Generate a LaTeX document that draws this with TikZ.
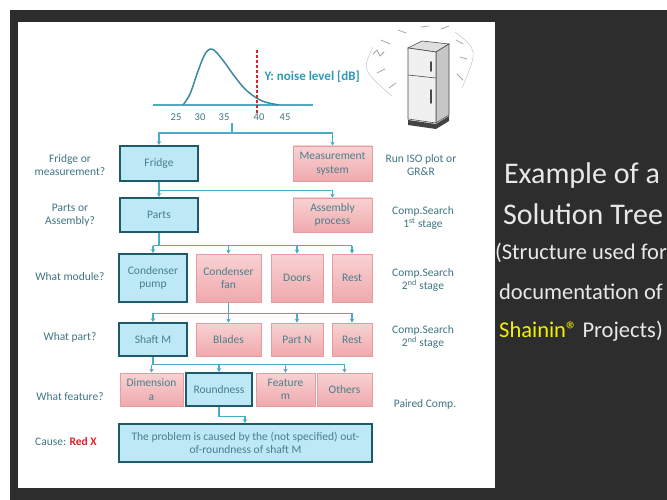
\documentclass[tikz,border=0pt]{standalone}
\usepackage{fontspec}
\setmainfont{Carlito}
\usetikzlibrary{arrows.meta,calc}

\definecolor{bgdark}{HTML}{2D2D2E}
\definecolor{teal}{HTML}{4BACC6}
\definecolor{tealtext}{HTML}{2F9AB5}
\definecolor{hiborder}{HTML}{1F5A6A}
\definecolor{hifill}{HTML}{BDE8F6}
\definecolor{boxtext}{HTML}{4A7F8C}
\definecolor{pinkborder}{HTML}{E59CA1}
\definecolor{pinktop}{HTML}{F8D2D3}
\definecolor{pinkbot}{HTML}{F0A9AD}
\definecolor{labeltext}{HTML}{3F7582}
\definecolor{redx}{HTML}{E0202A}
\definecolor{titletext}{HTML}{E8E8E8}
\definecolor{shainin}{HTML}{F2F200}
\definecolor{fridgeline}{HTML}{4A4A4A}

\tikzset{
  box/.style={rectangle, align=center, inner sep=1pt,
    font=\fontsize{11.5}{13.5}\selectfont, text=boxtext},
  hibox/.style={box, draw=hiborder, line width=1.8pt, fill=hifill},
  pinkbox/.style={box, draw=pinkborder, line width=0.7pt,
    top color=pinktop, bottom color=pinkbot},
  qlabel/.style={align=center, font=\fontsize{11.5}{13.5}\selectfont, text=labeltext},
  conn/.style={draw=teal, line width=1.1pt},
  arr/.style={conn, -{Stealth[length=4pt,width=4.5pt]}},
  ticklabel/.style={font=\fontsize{10.5}{12}\selectfont, text=labeltext},
  bigtitle/.style={font=\fontsize{30}{33}\selectfont, text=titletext},
  subtitle/.style={font=\fontsize{22.5}{25}\selectfont, text=titletext},
  vib/.style={draw=gray!70, line width=0.8pt, line cap=round},
}

\begin{document}
\begin{tikzpicture}[x=1pt,y=-1pt]
\useasboundingbox (0,0) rectangle (667,500);

% backdrop and white slide panel
\fill[bgdark] (0,0) rectangle (667,500);
\fill[white] (0,0) rectangle (667,10);
\fill[white] (0,0) rectangle (10,500);
\fill[white] (18,22) rectangle (495,488);

% noise distribution
\draw[teal, line width=1.6pt] (153,105) -- (313,105);
\draw[teal!80!black, line width=1.5pt, line join=round]
  plot[smooth, tension=0.6] coordinates {(183,105) (190,94) (197,74) (204,56) (210,49)
    (216,52) (225,63) (235,77) (245,89) (255,97) (265,102) (279,105)};
\draw[redx, line width=1.2pt, dash pattern=on 3pt off 2pt] (257,50) -- (257,115);
\node[ticklabel] (t25) at (176,117) {25};
\node[ticklabel] (t30) at (200,117) {30};
\node[ticklabel] (t35) at (224,117) {35};
\node[ticklabel] (t40) at (259,117) {40};
\node[ticklabel] (t45) at (285,117) {45};
\node[anchor=west, text=tealtext, font=\fontsize{13}{15}\selectfont\bfseries] (ylab)
  at (261,77) {Y: noise level [dB]};

% vibrating fridge
\fill[fridgeline!90!black] (408,120) -- (436,124) -- (449,116) -- (449,121) -- (436,129) -- (408,125) -- cycle;
\filldraw[draw=fridgeline, fill=gray!25, line width=0.6pt]
  (408,48) -- (422,41) -- (449,44) -- (436,52) -- cycle;
\filldraw[draw=fridgeline, fill=gray!45, line width=0.6pt]
  (436,52) -- (449,44) -- (449,115) -- (436,123) -- cycle;
\filldraw[draw=fridgeline, fill=gray!12, line width=0.6pt]
  (408,48) -- (436,52) -- (436,123) -- (408,119) -- cycle;
\draw[fridgeline, line width=0.6pt] (408,75) -- (436,78);
\draw[fridgeline, line width=1.8pt, line cap=round] (431,62) -- (431,71);
\draw[fridgeline, line width=1.8pt, line cap=round] (431,90) -- (431,103);
\draw[gray!45, line width=0.5pt] (373,47) .. controls (362,70) .. (392,96);
\draw[gray!45, line width=0.5pt] (455,32) .. controls (478,50) .. (462,88);
\draw[vib] (373,54) -- (377,50) -- (380,56) -- (384,52);
\draw[vib] (381,40) -- (390,44);
\draw[vib] (398,30) -- (406,33);
\draw[vib] (421,27) -- (429,26);
\draw[vib] (441,29) -- (449,26);
\draw[vib] (456,40) -- (463,44);
\draw[vib] (460,57) -- (467,59);
\draw[vib] (457,74) -- (463,80);
\draw[vib] (377,73) -- (385,69);
\draw[vib] (389,88) -- (396,83);

% decision boxes
\node[hibox,   minimum width=78pt, minimum height=35pt] (fridge) at (159,163.5) {Fridge};
\node[pinkbox, minimum width=79pt, minimum height=35pt] (meas)   at (332.5,163.5) {Measurement\\system};
\node[hibox,   minimum width=78pt, minimum height=34pt] (parts)  at (159,215) {Parts};
\node[pinkbox, minimum width=79pt, minimum height=34pt] (asm)    at (332.5,215) {Assembly\\process};

\node[hibox,   minimum width=68pt, minimum height=48pt] (pump)  at (153,278) {Condenser\\pump};
\node[pinkbox, minimum width=65pt, minimum height=48pt] (fan)   at (228.5,278) {Condenser\\fan};
\node[pinkbox, minimum width=52pt, minimum height=48pt] (doors) at (297,278) {Doors};
\node[pinkbox, minimum width=40pt, minimum height=48pt] (restm) at (352,278) {Rest};

\node[hibox,   minimum width=68pt, minimum height=33pt] (shaft)  at (153,339.5) {Shaft M};
\node[pinkbox, minimum width=65pt, minimum height=33pt] (blades) at (228.5,339.5) {Blades};
\node[pinkbox, minimum width=52pt, minimum height=33pt] (partn)  at (297,339.5) {Part N};
\node[pinkbox, minimum width=40pt, minimum height=33pt] (restp)  at (352,339.5) {Rest};

\node[pinkbox, minimum width=63pt, minimum height=33pt] (dim)    at (151.5,389.5) {Dimension\\a};
\node[hibox,   minimum width=66pt, minimum height=33pt] (round)  at (219,389.5) {Roundness};
\node[pinkbox, minimum width=59pt, minimum height=33pt] (feat)   at (285.5,389.5) {Feature\\m};
\node[pinkbox, minimum width=55pt, minimum height=33pt] (others) at (344.5,389.5) {Others};

\node[hibox, minimum width=253pt, minimum height=38pt] (cause) at (245.5,443)
  {The problem is caused by the (not specified) out-\\of-roundness of shaft M};

% connectors
\coordinate (axstem) at (232,123);
\coordinate (j0) at (232,133);
\draw[conn] (axstem) -- (j0);
\draw[arr] (j0) -| (fridge.north);
\draw[arr] (j0) -| (meas.north);

\coordinate (j1) at ($(fridge.south)+(0,9)$);
\draw[arr] (fridge.south) -- (parts.north);
\draw[arr] (j1) -| (asm.north);

\coordinate (j2) at ($(parts.south)+(0,13)$);
\draw[conn] (parts.south) -- (j2);
\draw[conn] (j2 -| pump.north) -- (j2 -| restm.north);
\foreach \n in {pump,fan,doors,restm} \draw[arr] (j2 -| \n.north) -- (\n.north);

\coordinate (j3) at ($(fan.south)+(0,11)$);
\draw[conn] (fan.south) -- (j3);
\draw[conn] (j3 -| shaft.north) -- (j3 -| restp.north);
\foreach \n in {shaft,blades,partn,restp} \draw[arr] (j3 -| \n.north) -- (\n.north);

\coordinate (j4) at ($(shaft.south)+(0,8)$);
\draw[conn] (shaft.south) -- (j4);
\draw[conn] (j4 -| dim.north) -- (j4 -| others.north);
\foreach \n in {dim,round,feat,others} \draw[arr] (j4 -| \n.north) -- (\n.north);

\coordinate (j5) at ($(round.south)+(0,10)$);
\coordinate (c5) at (245,0);
\draw[arr] (round.south) -- (j5) -| (c5 |- cause.north);

% level questions
\node[qlabel] (q1) at (70,165) {Fridge or\\measurement?};
\node[qlabel] (q2) at (70,215) {Parts or\\Assembly?};
\node[qlabel] (q3) at (70,277) {What module?};
\node[qlabel] (q4) at (70,337) {What part?};
\node[qlabel] (q5) at (70,397) {What feature?};
\node[qlabel] (q6) at (66,442) {Cause: \textcolor{redx}{\bfseries Red X}};

% tools per level
\node[qlabel] (m1) at (421,165) {Run ISO plot or\\GR\&R};
\node[qlabel] (m2) at (423,218) {Comp.Search\\1\textsuperscript{st} stage};
\node[qlabel] (m3) at (423,280) {Comp.Search\\2\textsuperscript{nd} stage};
\node[qlabel] (m4) at (423,337) {Comp.Search\\2\textsuperscript{nd} stage};
\node[qlabel] (m5) at (425,404) {Paired Comp.};

% slide caption
\node[bigtitle] (h1) at (582,176) {Example of a};
\node[bigtitle] (h2) at (583,214) {Solution Tree};
\node[subtitle] (h3) at (581,253) {(Structure used for};
\node[subtitle] (h4) at (581,292) {documentation of};
\node[subtitle] (h5) at (581,331) {\textcolor{shainin}{Shainin®} Projects)};
\end{tikzpicture}
\end{document}
